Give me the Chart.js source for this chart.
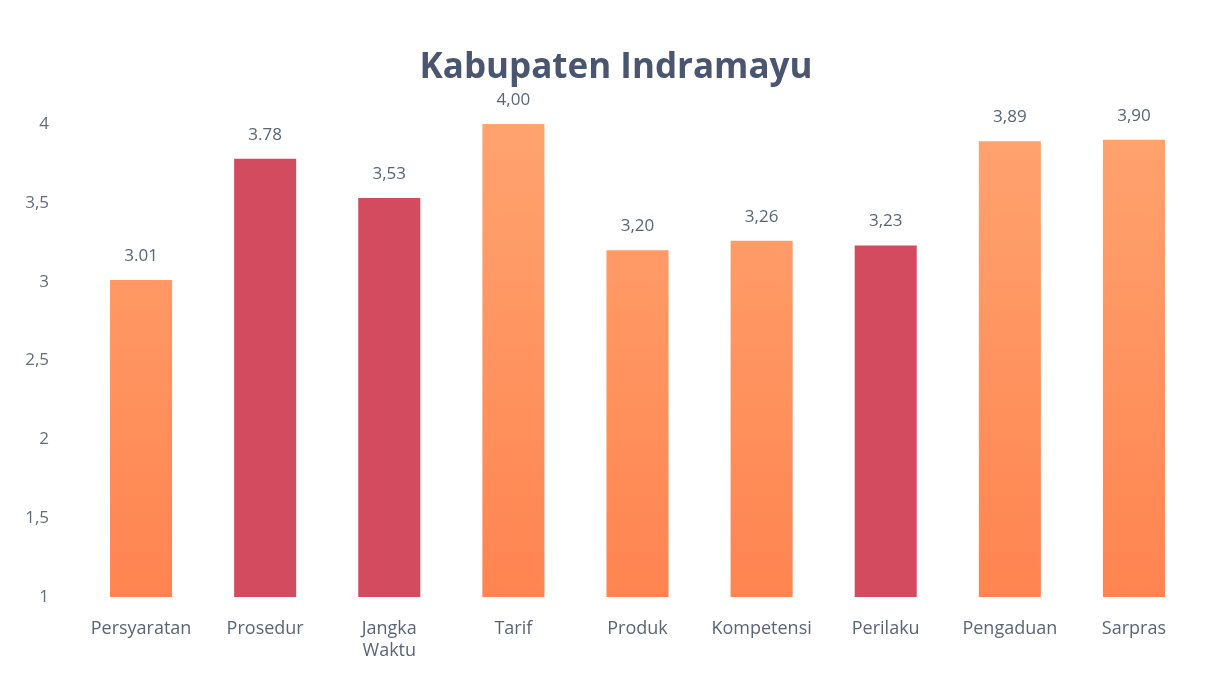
<!DOCTYPE html>
<html>
<head>
<meta charset="utf-8">
<script src="https://cdn.jsdelivr.net/npm/chart.js@4/dist/chart.umd.min.js"></script>
<style>
  html, body { margin: 0; padding: 0; background: #fff; }
  #wrap { width: 1214px; height: 679px; }
</style>
</head>
<body>
<div id="wrap"><canvas id="indramayuChart"></canvas></div>
<script>
// data
const chartTitle = "Kabupaten Indramayu";
const categories = ["Persyaratan", "Prosedur", ["Jangka", "Waktu"], "Tarif", "Produk", "Kompetensi", "Perilaku", "Pengaduan", "Sarpras"];
const scores = [3.01, 3.78, 3.53, 4.00, 3.20, 3.26, 3.23, 3.89, 3.90];
const scoreLabels = ["3.01", "3.78", "3,53", "4,00", "3,20", "3,26", "3,23", "3,89", "3,90"];
const isRed = [false, true, true, false, false, false, true, false, false];
const yTicks = [1, 1.5, 2, 2.5, 3, 3.5, 4];

const FONT = "'Open Sans', Lato, sans-serif";

function barColor(ctx) {
  const chart = ctx.chart;
  const area = chart.chartArea;
  if (!area) return '#ff9a66';
  if (isRed[ctx.dataIndex]) return '#d24b5f';
  let g = chart.ctx.createLinearGradient(0, area.top, 0, area.bottom);
  g.addColorStop(0, '#ffa36f');
  g.addColorStop(1, '#ff8450');
  return g;
}

// value text above each bar + the title (sits a bit right of centre in the original)
const valueLabels = {
  id: 'valueLabels',
  afterDatasetsDraw(chart) {
    const ctx = chart.ctx;
    const meta = chart.getDatasetMeta(0);
    ctx.save();
    ctx.font = "17px " + FONT;
    ctx.fillStyle = '#5b6477';
    ctx.textAlign = 'center';
    ctx.textBaseline = 'middle';
    meta.data.forEach((bar, i) => {
      ctx.fillText(scoreLabels[i], bar.x, bar.y - 24);
    });
    ctx.font = "bold 35px " + FONT;
    ctx.fillStyle = '#4a5670';
    ctx.fillText(chartTitle, 616, 68);
    ctx.restore();
  }
};

new Chart(document.getElementById('indramayuChart'), {
  type: 'bar',
  data: {
    labels: categories,
    datasets: [{
      data: scores,
      backgroundColor: barColor,
      barPercentage: 0.5,
      categoryPercentage: 1.0
    }]
  },
  options: {
    responsive: true,
    maintainAspectRatio: false,
    animation: false,
    layout: { padding: { left: 0, right: 18, top: 124, bottom: 0 } },
    plugins: {
      legend: { display: false },
      tooltip: { enabled: false },
      title: { display: false }
    },
    scales: {
      x: {
        grid: { display: false },
        border: { display: false },
        ticks: {
          color: '#5b6477',
          font: { family: FONT, size: 18 },
          padding: 13,
          maxRotation: 0,
          autoSkip: false
        },
        afterFit(s) { s.height = 82; }
      },
      y: {
        min: 1,
        max: 4,
        grid: { display: false },
        border: { display: false },
        afterBuildTicks(s) { s.ticks = yTicks.map(v => ({ value: v })); },
        ticks: {
          color: '#666b78',
          font: { family: FONT, size: 17 },
          padding: 22,
          callback: v => String(v).replace('.', ',')
        },
        afterFit(s) { s.width = 79; }
      }
    }
  },
  plugins: [valueLabels]
});
</script>
</body>
</html>
